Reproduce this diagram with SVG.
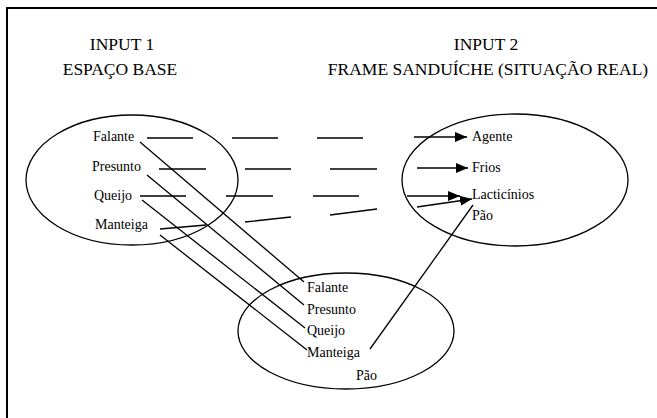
<svg xmlns="http://www.w3.org/2000/svg" width="657" height="418" viewBox="0 0 657 418">
  <style>
    text { font-family: "Liberation Serif", "Times New Roman", serif; fill: #000; }
    .title { font-size: 17.5px; text-anchor: middle; }
    .lbl { font-size: 14px; }
    .space { fill: none; stroke: #000; stroke-width: 1.3; }
    .link { fill: none; stroke: #000; stroke-width: 1.3; }
    .arr { marker-end: url(#head); }
  </style>
  <defs>
    <marker id="head" markerUnits="userSpaceOnUse" markerWidth="13" markerHeight="11" refX="12" refY="5" orient="auto">
      <path d="M0,0 L12,5 L0,10 Z" fill="#000"/>
    </marker>
  </defs>

  <rect width="657" height="418" fill="#fff"/>
  <!-- frame (left and top edges) -->
  <path d="M7,418 V8 H657" fill="none" stroke="#000" stroke-width="2"/>

  <!-- headings -->
  <g id="heading-input1">
    <text class="title" x="122" y="50">INPUT 1</text>
    <text class="title" x="120" y="75">ESPAÇO BASE</text>
  </g>
  <g id="heading-input2">
    <text class="title" x="486" y="50">INPUT 2</text>
    <text class="title" x="488" y="75">FRAME SANDUÍCHE (SITUAÇÃO REAL)</text>
  </g>

  <!-- input 1: base space -->
  <g id="input1">
    <ellipse class="space" cx="132" cy="180" rx="106" ry="65"/>
    <text class="lbl" x="93" y="141">Falante</text>
    <text class="lbl" x="92" y="171">Presunto</text>
    <text class="lbl" x="94" y="200">Queijo</text>
    <text class="lbl" x="95" y="229">Manteiga</text>
  </g>

  <!-- input 2: sandwich frame -->
  <g id="input2">
    <ellipse class="space" cx="515" cy="180" rx="113" ry="66"/>
    <text class="lbl" x="472" y="141">Agente</text>
    <text class="lbl" x="472" y="172">Frios</text>
    <text class="lbl" x="472" y="199">Lacticínios</text>
    <text class="lbl" x="472" y="220">Pão</text>
  </g>

  <!-- blend -->
  <g id="blend">
    <ellipse class="space" cx="346" cy="331" rx="108" ry="58"/>
    <text class="lbl" x="307" y="292">Falante</text>
    <text class="lbl" x="307" y="314">Presunto</text>
    <text class="lbl" x="307" y="335">Queijo</text>
    <text class="lbl" x="307" y="357">Manteiga</text>
    <text class="lbl" x="356" y="380">Pão</text>
  </g>

  <!-- connectors -->
  <g id="connectors">
    <!-- cross-space mappings (dashed runs) -->
    <path class="link" d="M147,138 H193 M232,138 H278 M317,138 H363"/>
    <line class="link arr" x1="414" y1="137" x2="467" y2="137"/>

    <path class="link" d="M159,169 H206 M245,169 H291 M330,169 H377"/>
    <line class="link arr" x1="417" y1="168" x2="468" y2="168"/>

    <path class="link" d="M140,196 H186 M226,196 H273 M313,196 H359"/>
    <line class="link arr" x1="407" y1="196" x2="460" y2="196"/>

    <path class="link" d="M160,229 L206,225 M245,222 L291,217 M330,215 L377,209"/>
    <line class="link arr" x1="417" y1="207" x2="472" y2="199"/>

    <!-- projections into the blend -->
    <line class="link" x1="140" y1="142" x2="304" y2="282"/>
    <line class="link" x1="147" y1="175" x2="304" y2="305"/>
    <line class="link" x1="142" y1="200" x2="305" y2="328"/>
    <line class="link" x1="160" y1="235" x2="307" y2="350"/>
    <line class="link" x1="370" y1="349" x2="473" y2="205"/>
  </g>
</svg>
